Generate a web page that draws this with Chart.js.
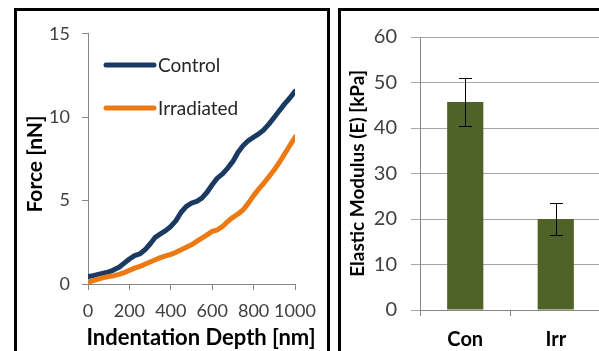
<!DOCTYPE html>
<html>
<head>
<meta charset="utf-8">
<script src="https://cdn.jsdelivr.net/npm/chart.js@4/dist/chart.umd.min.js"></script>
<style>
  html, body { margin:0; padding:0; background:#fff; }
  body { width:599px; height:351px; overflow:hidden; position:relative; font-family:Lato, sans-serif; }
  .panel { position:absolute; border:3px solid #000; background:#fff; overflow:hidden; }
  #p1 { left:14px; top:8px; width:310px; height:400px; }
  #p2 { left:338px; top:8px; width:300px; height:400px; }
  canvas { position:absolute; left:0; top:0; }
</style>
</head>
<body>
<div class="panel" id="p1"><canvas id="c1" width="310" height="340"></canvas></div>
<div class="panel" id="p2"><canvas id="c2" width="279" height="340"></canvas></div>
<script>
// ---- data ----
const seriesNames = ['Control', 'Irradiated'];
const depthNm = [0,25,50,75,100,125,150,175,200,225,250,275,300,325,350,375,400,425,450,475,500,
                 525,550,575,600,625,650,675,700,725,750,775,800,825,850,875,900,925,950,975,1000];
const controlForce = [0.45,0.50,0.58,0.65,0.72,0.85,1.00,1.25,1.50,1.70,1.80,2.05,2.40,2.80,3.00,3.20,3.45,3.80,4.30,4.65,4.85,
                      4.95,5.15,5.50,5.95,6.35,6.60,6.95,7.35,7.90,8.30,8.60,8.80,9.00,9.25,9.60,10.00,10.40,10.80,11.15,11.55];
const irradiatedForce = [0.10,0.20,0.30,0.38,0.45,0.50,0.58,0.68,0.82,0.95,1.05,1.18,1.32,1.45,1.58,1.68,1.78,1.90,2.05,2.20,2.35,
                         2.55,2.75,2.95,3.15,3.25,3.45,3.75,4.00,4.20,4.45,4.85,5.30,5.70,6.05,6.45,6.85,7.30,7.80,8.30,8.80];
const forceTicks = [0, 5, 10, 15];
const depthTicks = [0, 200, 400, 600, 800, 1000];
const depthTitle = 'Indentation Depth [nm]';
const forceTitle = 'Force [nN]';

const groups = ['Con', 'Irr'];
const modulus = [45.7, 20.0];
const modulusErr = [5.3, 3.6];
const modulusTicks = [0, 10, 20, 30, 40, 50, 60];
const modulusTitle = 'Elastic Modulus (E) [kPa]';

// ---- styles ----
const axisGray = '#868686';
const gridGray = '#A6A6A6';
const tickColor = '#404040';
const seriesColors = ['#1B3A62', '#EC7A14'];
const barColor = '#4F6228';

const insideLegend = {
  id: 'insideLegend',
  afterDraw(chart) {
    const ctx = chart.ctx;
    const rows = [54, 97];
    ctx.save();
    chart.data.datasets.forEach((ds, i) => {
      const y = rows[i];
      ctx.strokeStyle = ds.borderColor;
      ctx.lineWidth = 5;
      ctx.lineCap = 'round';
      ctx.beginPath();
      ctx.moveTo(89, y);
      ctx.lineTo(137, y);
      ctx.stroke();
      ctx.fillStyle = '#262626';
      ctx.font = '19px Lato';
      ctx.textBaseline = 'middle';
      ctx.textAlign = 'left';
      ctx.fillText(ds.label, 141, y + 1);
    });
    ctx.restore();
  }
};

// axis titles of the left chart, placed as in the reference (x title is wider than the axis)
const leftTitles = {
  id: 'leftTitles',
  afterDraw(chart) {
    const ctx = chart.ctx;
    ctx.save();
    ctx.fillStyle = '#000';
    ctx.textAlign = 'center';
    ctx.textBaseline = 'middle';
    ctx.font = 'bold 22px Lato';
    ctx.fillText(depthTitle, 184, 327);
    ctx.translate(18, 153);
    ctx.rotate(-Math.PI / 2);
    ctx.font = 'bold 21px Lato';
    ctx.fillText(forceTitle, 0, 0);
    ctx.restore();
  }
};

new Chart(document.getElementById('c1'), {
  type: 'line',
  data: {
    datasets: [
      { label: seriesNames[0], data: depthNm.map((x, i) => ({ x, y: controlForce[i] })),
        borderColor: seriesColors[0], borderWidth: 5, pointRadius: 0, tension: 0,
        borderJoinStyle: 'round', borderCapStyle: 'round', order: 1 },
      { label: seriesNames[1], data: depthNm.map((x, i) => ({ x, y: irradiatedForce[i] })),
        borderColor: seriesColors[1], borderWidth: 5, pointRadius: 0, tension: 0,
        borderJoinStyle: 'round', borderCapStyle: 'round', order: 0 }
    ]
  },
  options: {
    responsive: false, animation: false, events: [],
    layout: { padding: { left: 0, top: 18, right: 32, bottom: 0 } },
    plugins: { legend: { display: false }, tooltip: { enabled: false } },
    scales: {
      x: {
        type: 'linear', min: 0, max: 1000,
        afterBuildTicks: s => { s.ticks = depthTicks.map(v => ({ value: v })); },
        afterFit: s => { s.height = 67; },
        grid: { drawOnChartArea: false, drawTicks: true, tickLength: 6, color: axisGray },
        border: { color: axisGray, width: 1 },
        ticks: { font: { family: 'Lato', size: 18 }, color: tickColor, padding: 10, maxRotation: 0, autoSkip: false,
                 callback: v => String(v) },
        title: { display: false }
      },
      y: {
        min: 0, max: 15,
        afterBuildTicks: s => { s.ticks = forceTicks.map(v => ({ value: v })); },
        afterFit: s => { s.width = 71; },
        grid: { drawOnChartArea: false, drawTicks: true, tickLength: 6, color: axisGray },
        border: { color: axisGray, width: 1 },
        ticks: { font: { family: 'Lato', size: 18 }, color: tickColor, padding: 12, callback: v => String(v) },
        title: { display: false }
      }
    }
  },
  plugins: [insideLegend, leftTitles]
});

const errorBars = {
  id: 'errorBars',
  afterDatasetsDraw(chart) {
    const ctx = chart.ctx;
    const meta = chart.getDatasetMeta(0);
    const ys = chart.scales.y;
    ctx.save();
    ctx.strokeStyle = '#000';
    ctx.lineWidth = 1;
    meta.data.forEach((bar, i) => {
      const v = modulus[i], e = modulusErr[i];
      const x = Math.round(bar.x) + 0.5;
      const yTop = Math.round(ys.getPixelForValue(v + e)) + 0.5;
      const yBot = Math.round(ys.getPixelForValue(v - e)) + 0.5;
      ctx.beginPath();
      ctx.moveTo(x, yTop); ctx.lineTo(x, yBot);
      ctx.moveTo(x - 6.5, yTop); ctx.lineTo(x + 6.5, yTop);
      ctx.moveTo(x - 6.5, yBot); ctx.lineTo(x + 6.5, yBot);
      ctx.stroke();
    });
    ctx.restore();
  }
};

new Chart(document.getElementById('c2'), {
  type: 'bar',
  data: {
    labels: groups,
    datasets: [{ data: modulus, backgroundColor: barColor, barPercentage: 0.4, categoryPercentage: 1 }]
  },
  options: {
    responsive: false, animation: false, events: [],
    layout: { padding: { left: 0, top: 22, right: 19, bottom: 0 } },
    plugins: { legend: { display: false }, tooltip: { enabled: false } },
    scales: {
      x: {
        afterFit: s => { s.height = 41; },
        grid: { drawOnChartArea: false, drawTicks: true, tickLength: 6, color: axisGray, offset: true },
        border: { color: axisGray, width: 1 },
        ticks: { font: { family: 'Lato', size: 20, weight: 'bold' }, color: '#000', padding: 12 }
      },
      y: {
        min: 0, max: 60,
        afterBuildTicks: s => { s.ticks = modulusTicks.map(v => ({ value: v })); },
        afterFit: s => { s.width = 79; },
        grid: { color: gridGray, tickLength: 9 },
        border: { color: axisGray, width: 1 },
        ticks: { font: { family: 'Lato', size: 20 }, color: tickColor, padding: 14 },
        title: { display: true, text: modulusTitle, color: '#000',
                 font: { family: 'Lato', size: 19, weight: 'bold' }, padding: { top: 5, bottom: 0 } }
      }
    }
  },
  plugins: [errorBars]
});
</script>
</body>
</html>
